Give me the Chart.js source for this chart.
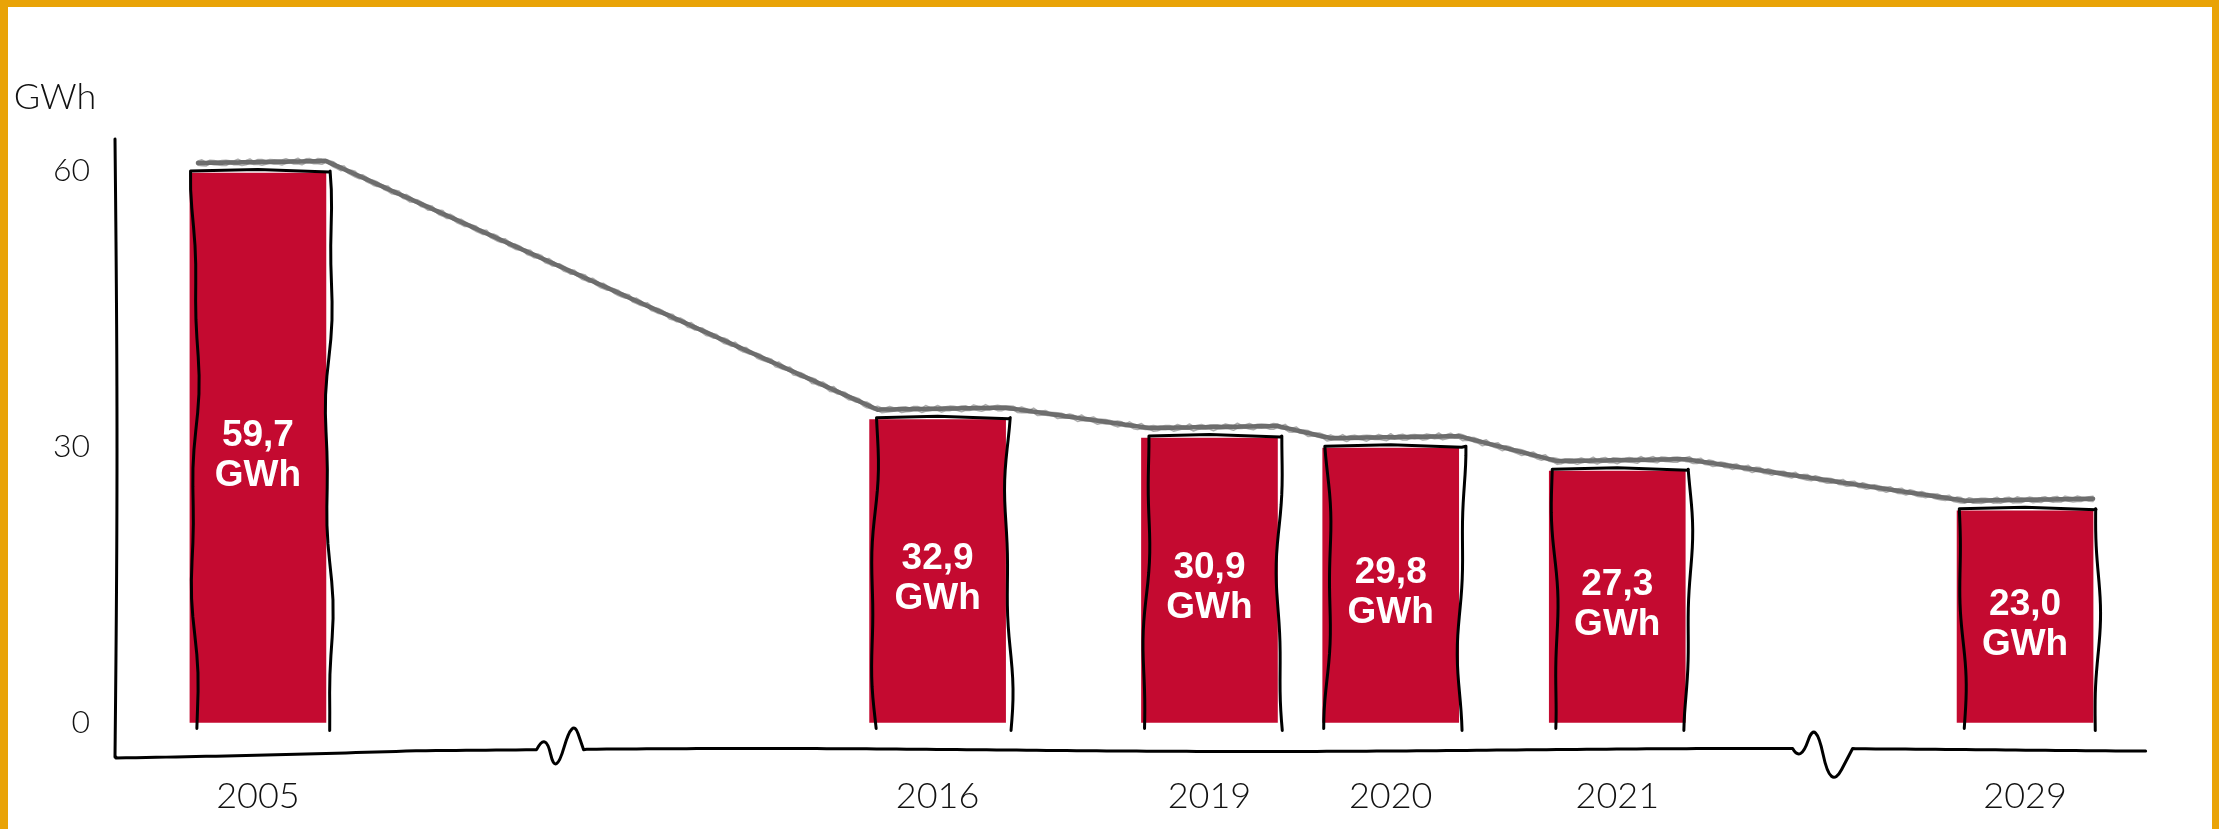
<!DOCTYPE html>
<html><head><meta charset="utf-8">
<script src="https://cdn.jsdelivr.net/npm/chart.js@4.4.1/dist/chart.umd.min.js"></script>
<style>
html,body{margin:0;padding:0;background:#fff;overflow:hidden;}
#wrap{position:relative;width:2219px;height:829px;}
#frame{position:absolute;left:0;top:0;width:2219px;height:829px;box-sizing:border-box;border-left:8px solid #E9A307;border-top:7px solid #E9A307;border-right:7px solid #E9A307;pointer-events:none;}
canvas{position:absolute;left:0;top:0;}
</style></head><body>
<div id="wrap"><canvas id="c" width="2219" height="829"></canvas><div id="frame"></div></div>
<script>
// ---- data ----
const years = ['2005', '2016', '2019', '2020', '2021', '2029'];
const values = [59.7, 32.9, 30.9, 29.8, 27.3, 23.0];
const valueLabels = ['59,7', '32,9', '30,9', '29,8', '27,3', '23,0'];
const unitLabel = 'GWh';
const yTickValues = [0, 30, 60];

// ---- layout (slot of each year on the category axis, incl. empty spacer slots) ----
const yearSlots = [3, 18, 24, 28, 33, 42];
const slotCount = 46;

const categories = [];
const barData = [];
for (let i = 0; i < slotCount; i++) { categories.push(''); barData.push(null); }
yearSlots.forEach((s, k) => { categories[s] = years[k]; barData[s] = values[k]; });

const RED = '#C40A30';
const HAND = "'Lato', 'DejaVu Sans', sans-serif";

function wob(seed, t, amp) {
  return amp * (Math.sin(t * 0.017 + seed * 1.7) * 0.7 + Math.sin(t * 0.045 + seed * 2.9) * 0.3);
}

function smoothPath(ctx, pts) {
  ctx.lineTo(pts[0][0], pts[0][1]);
  for (let i = 1; i < pts.length - 1; i++) {
    const mx = (pts[i][0] + pts[i + 1][0]) / 2, my = (pts[i][1] + pts[i + 1][1]) / 2;
    ctx.quadraticCurveTo(pts[i][0], pts[i][1], mx, my);
  }
  ctx.lineTo(pts[pts.length - 1][0], pts[pts.length - 1][1]);
}

function roughLine(ctx, pts) {
  // sample the polyline and stroke a few slightly jittered copies for a pencil texture
  const samp = [];
  for (let i = 0; i < pts.length - 1; i++) {
    const [x0, y0] = pts[i], [x1, y1] = pts[i + 1];
    const len = Math.hypot(x1 - x0, y1 - y0);
    const n = Math.max(1, Math.round(len / 4));
    for (let j = 0; j < n; j++) samp.push([x0 + (x1 - x0) * j / n, y0 + (y1 - y0) * j / n]);
  }
  samp.push(pts[pts.length - 1]);
  ctx.lineJoin = 'round'; ctx.lineCap = 'round';
  ctx.strokeStyle = '#6e6e6e'; ctx.lineWidth = 4.5;
  ctx.beginPath();
  samp.forEach((p, i) => { if (i === 0) ctx.moveTo(p[0], p[1]); else ctx.lineTo(p[0], p[1]); });
  ctx.stroke();
  [[1.3, 0.8, 2.2], [2.1, -0.9, -2.0]].forEach(([f, a, off]) => {
    ctx.strokeStyle = 'rgba(105,105,105,0.55)'; ctx.lineWidth = 1.6;
    ctx.beginPath();
    samp.forEach((p, i) => {
      const y = p[1] + off + a * Math.sin(i * f) + 0.6 * Math.sin(i * 3.7);
      if (i === 0) ctx.moveTo(p[0], y); else ctx.lineTo(p[0], y);
    });
    ctx.stroke();
  });
}

const sketch = {
  id: 'sketch',
  afterDatasetsDraw(chart) {
    const ctx = chart.ctx;
    const area = chart.chartArea;
    const meta = chart.getDatasetMeta(0);
    const bars = [];
    meta.data.forEach((el, i) => {
      if (barData[i] === null || barData[i] === undefined) return;
      const p = el.getProps(['x', 'y', 'base', 'width'], true);
      bars.push({ x: p.x, y: p.y, base: p.base, w: p.width, k: bars.length });
    });

    // gray trend line across bar tops
    const pts = [];
    bars.forEach(b => {
      pts.push([b.x - b.w / 2 + 8, b.y - 10]);
      pts.push([b.x + b.w / 2, b.y - 12]);
    });
    ctx.save();
    roughLine(ctx, pts);
    ctx.restore();

    // hand-drawn outlines
    ctx.save();
    ctx.strokeStyle = '#000'; ctx.lineWidth = 3; ctx.lineJoin = 'round'; ctx.lineCap = 'round';
    bars.forEach(b => {
      const L = b.x - b.w / 2 + 5, R = b.x + b.w / 2 + 3;
      const top = b.y - 2, bot = b.base + 6;
      ctx.beginPath();
      const n = 30;
      for (let j = 0; j <= n; j++) {
        const yy = bot - (bot - top) * j / n;
        const xx = L + wob(b.k * 3 + 1, yy, 4.5);
        if (j === 0) ctx.moveTo(xx, yy); else ctx.lineTo(xx, yy);
      }
      ctx.lineTo(b.x, top - 1.5);
      ctx.lineTo(R, top + 1);
      for (let j = 0; j <= n; j++) {
        const yy = top + (bot + 2 - top) * j / n;
        const xx = R + wob(b.k * 3 + 2, yy, 4.5);
        ctx.lineTo(xx, yy);
      }
      ctx.stroke();
    });
    ctx.restore();

    // value labels
    ctx.save();
    ctx.fillStyle = '#fff';
    ctx.textAlign = 'center'; ctx.textBaseline = 'middle';
    ctx.font = "bold 37px 'Liberation Sans', Arial, sans-serif";
    bars.forEach(b => {
      const cy = (b.y + b.base) / 2 + 8;
      ctx.fillText(valueLabels[b.k], b.x, cy - 20);
      ctx.fillText(unitLabel, b.x, cy + 20);
    });
    ctx.restore();

    // axes (hand drawn)
    ctx.save();
    ctx.strokeStyle = '#000'; ctx.lineWidth = 3; ctx.lineCap = 'round'; ctx.lineJoin = 'round';
    const ax = area.left - 6;
    ctx.beginPath();
    for (let j = 0; j <= 30; j++) {
      const yy = area.top + (area.bottom + 7 - area.top) * j / 30;
      const xx = ax + 2 * Math.sin(j / 30 * Math.PI) - 1;
      if (j === 0) ctx.moveTo(xx, yy); else ctx.lineTo(xx, yy);
    }
    ctx.stroke();

    const b0 = bars[0], b1 = bars[1], b4 = bars[4], b5 = bars[5];
    const br1 = b0.x + (b1.x - b0.x) * 0.41;
    const br2 = b4.x + (b5.x - b4.x) * 0.43;
    const yb = area.bottom;
    const baseY = x => yb + (x < ax + 300 ? 7 * (1 - (x - ax) / 300) : 0) + 1.5 * Math.sin(x / 160);
    ctx.beginPath();
    ctx.moveTo(ax, yb + 7);
    for (let x = ax; x < br1; x += 10) ctx.lineTo(x, baseY(x));
    let y1 = baseY(br1);
    smoothPath(ctx, [[br1, y1], [br1 + 9, y1 - 18], [br1 + 19, y1 + 27], [br1 + 36, y1 - 32], [br1 + 47, y1]]);
    for (let x = br1 + 50; x < br2; x += 10) ctx.lineTo(x, baseY(x));
    let y2 = baseY(br2);
    smoothPath(ctx, [[br2, y2], [br2 + 8, y2 + 14], [br2 + 23, y2 - 30], [br2 + 38, y2 + 42], [br2 + 60, y2]]);
    for (let x = br2 + 63; x <= area.right - 6; x += 10) ctx.lineTo(x, baseY(x));
    ctx.stroke();
    ctx.restore();
  },
  afterDraw(chart) {
    const ctx = chart.ctx;
    ctx.save();
    ctx.fillStyle = '#111';
    ctx.font = "300 36px " + HAND;
    ctx.textAlign = 'center'; ctx.textBaseline = 'middle';
    ctx.fillText(unitLabel, 55, 97);
    ctx.restore();
  }
};

new Chart(document.getElementById('c'), {
  type: 'bar',
  data: {
    labels: categories,
    datasets: [{
      data: barData,
      backgroundColor: RED,
      borderWidth: 0,
      barThickness: 136
    }]
  },
  options: {
    responsive: false,
    animation: false,
    devicePixelRatio: 1,
    layout: { padding: { top: 139, right: 58, left: 0, bottom: 0 } },
    plugins: { legend: { display: false }, tooltip: { enabled: false } },
    scales: {
      x: {
        type: 'category',
        offset: false,
        grid: { display: false, drawTicks: false },
        border: { display: false },
        ticks: { autoSkip: false, maxRotation: 0, minRotation: 0, padding: 25, color: '#111',
                 font: { family: HAND, size: 36, weight: '300' } },
        afterFit(s) { s.height = 79; }
      },
      y: {
        min: -3,
        max: 63.4,
        grid: { display: false, drawTicks: false },
        border: { display: false },
        afterBuildTicks(s) { s.ticks = yTickValues.map(v => ({ value: v })); },
        ticks: { padding: 32, color: '#111', font: { family: HAND, size: 32, weight: '300' },
                 callback: v => String(v) },
        afterFit(s) { s.width = 122; }
      }
    }
  },
  plugins: [sketch]
});
</script>
</body></html>
